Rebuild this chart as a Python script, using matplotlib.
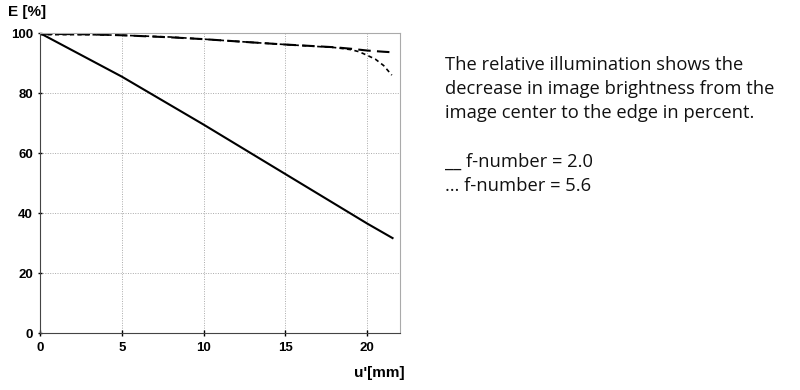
import matplotlib
matplotlib.use("Agg")
import matplotlib.pyplot as plt

# Data
x_solid = [0, 5, 10, 15, 20, 21.6]
y_solid = [100, 85.5, 69.5, 53.0, 36.5, 31.5]

x_long = [0, 3, 5, 8, 10, 13, 15, 18, 19, 20, 21, 21.6]
y_long = [99.8, 99.6, 99.3, 98.6, 98.0, 96.9, 96.2, 95.3, 94.8, 94.2, 93.8, 93.6]

x_short = [0, 3, 5, 8, 10, 13, 15, 18, 19, 19.5, 20, 20.5, 21, 21.5]
y_short = [99.5, 99.5, 99.3, 98.7, 98.0, 96.9, 96.2, 95.2, 94.5, 93.8, 92.6, 91.3, 89.2, 86.0]

xticks = [0, 5, 10, 15, 20]
yticks = [0, 20, 40, 60, 80, 100]

fig = plt.figure(figsize=(8, 3.9), dpi=100)
ax = fig.add_axes([0.05, 0.146, 0.45, 0.769])

ax.plot(x_solid, y_solid, color="black", lw=1.5, solid_capstyle="butt")
ax.plot(x_long, y_long, color="black", lw=1.5, dashes=(6, 3))
ax.plot(x_short, y_short, color="black", lw=1.2, dashes=(2.5, 2))

ax.set_xlim(0, 22)
ax.set_ylim(0, 100)
ax.set_xticks(xticks)
ax.set_yticks(yticks)
ax.grid(True, color="#aaaaaa", linestyle=(0, (1, 1.5)), lw=0.7)
for s in ["top", "right"]:
    ax.spines[s].set_color("#aaaaaa")
for s in ["left", "bottom"]:
    ax.spines[s].set_color("#444444")
ax.tick_params(axis="both", length=3, width=1, labelsize=9.5, direction="inout")
ax.tick_params(axis="x", length=5, pad=4)
for lab in ax.get_xticklabels() + ax.get_yticklabels():
    lab.set_fontfamily("Liberation Sans")
    lab.set_fontweight("bold")

fig.text(8 / 800, 1 - 12 / 390, "E [%]", fontsize=11, fontweight="bold",
         family="Liberation Sans", va="center", ha="left")
fig.text(405 / 800, 1 - 373 / 390, "u'[mm]", fontsize=11, fontweight="bold",
         family="Liberation Sans", va="center", ha="right")

txt = ("The relative illumination shows the\n"
       "decrease in image brightness from the\n"
       "image center to the edge in percent.\n"
       "\n"
       "__ f-number = 2.0\n"
       "\u2026 f-number = 5.6")
fig.text(445 / 800, 1 - 56 / 390, txt, fontsize=13.2, family="Open Sans",
         va="top", ha="left", linespacing=1.44, color="#111111")

fig.savefig("out.png", dpi=100)
